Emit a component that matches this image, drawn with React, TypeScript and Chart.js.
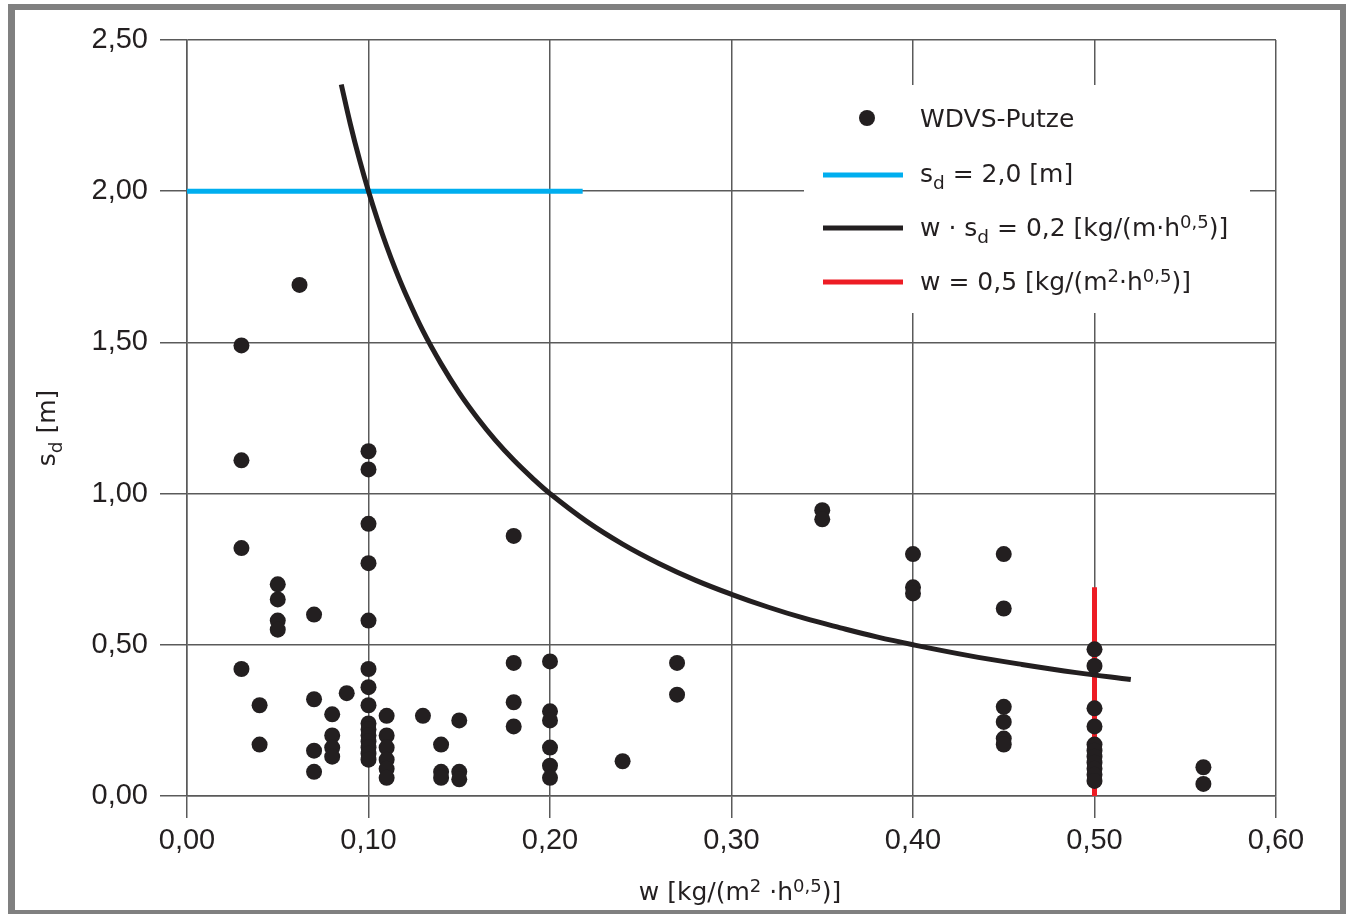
import React, { useEffect, useRef } from "react";
import { Chart, registerables } from "chart.js";

Chart.register(...registerables);

const FONT = '"Liberation Sans", Arial, sans-serif';
const FONT2 = '"DejaVu Sans", Verdana, sans-serif';
const INK = "#231f20";
const GRID = "#5a5a5a";

// scatter data: WDVS-Putze (w, sd)
const wValues = [
  0.03, 0.03, 0.03, 0.03,
  0.04, 0.04,
  0.05, 0.05, 0.05, 0.05,
  0.062,
  0.07, 0.07, 0.07, 0.07,
  0.08, 0.08, 0.08, 0.08,
  0.088,
  0.1, 0.1, 0.1, 0.1, 0.1, 0.1, 0.1, 0.1, 0.1, 0.1, 0.1, 0.1, 0.1, 0.1, 0.1,
  0.11, 0.11, 0.11, 0.11, 0.11, 0.11,
  0.13,
  0.14, 0.14, 0.14,
  0.15, 0.15, 0.15,
  0.18, 0.18, 0.18, 0.18,
  0.2, 0.2, 0.2, 0.2, 0.2, 0.2,
  0.24,
  0.27, 0.27,
  0.35, 0.35,
  0.4, 0.4, 0.4,
  0.45, 0.45, 0.45, 0.45, 0.45, 0.45,
  0.5, 0.5, 0.5, 0.5, 0.5, 0.5, 0.5, 0.5, 0.5, 0.5, 0.5,
  0.56, 0.56,
];
const sdValues = [
  1.49, 1.11, 0.82, 0.42,
  0.3, 0.17,
  0.7, 0.65, 0.58, 0.55,
  1.69,
  0.6, 0.32, 0.15, 0.08,
  0.27, 0.2, 0.16, 0.13,
  0.34,
  1.14, 1.08, 0.9, 0.77, 0.58, 0.42, 0.36, 0.3, 0.24, 0.22, 0.2, 0.18, 0.16, 0.14, 0.12,
  0.265, 0.2, 0.16, 0.12, 0.09, 0.06,
  0.265,
  0.17, 0.08, 0.06,
  0.25, 0.08, 0.055,
  0.86, 0.44, 0.31, 0.23,
  0.445, 0.28, 0.25, 0.16, 0.1, 0.06,
  0.115,
  0.44, 0.335,
  0.945, 0.915,
  0.8, 0.69, 0.67,
  0.8, 0.62, 0.295, 0.245, 0.19, 0.17,
  0.485, 0.43, 0.29, 0.23, 0.17, 0.15, 0.13, 0.11, 0.09, 0.07, 0.05,
  0.095, 0.04,
];

// curve w * sd = 0,2
const curveW = [
  0.085, 0.09, 0.095, 0.1, 0.105, 0.11, 0.115, 0.12, 0.13, 0.14, 0.15, 0.16, 0.17, 0.18, 0.19, 0.2,
  0.22, 0.24, 0.26, 0.28, 0.3, 0.32, 0.34, 0.36, 0.38, 0.4, 0.43, 0.46, 0.49, 0.52,
];
const curveSd = [
  2.353, 2.222, 2.105, 2.0, 1.905, 1.818, 1.739, 1.667, 1.538, 1.429, 1.333, 1.25, 1.176, 1.111, 1.053, 1.0,
  0.909, 0.833, 0.769, 0.714, 0.667, 0.625, 0.588, 0.556, 0.526, 0.5, 0.465, 0.435, 0.408, 0.385,
];

// sd = 2,0 m limit line
const blueW = [0.0, 0.218];
const blueSd = [2.0, 2.0];

// w = 0,5 limit line
const redW = [0.5, 0.5];
const redSd = [0.0, 0.69];

const xTicks = [0, 0.1, 0.2, 0.3, 0.4, 0.5, 0.6];
const yTicks = [0, 0.5, 1.0, 1.5, 2.0, 2.5];

type Part = { t: string; s?: "sub" | "sup" };

const legendItems: { kind: "dot" | "line"; color: string; parts: Part[] }[] = [
  { kind: "dot", color: INK, parts: [{ t: "WDVS-Putze" }] },
  { kind: "line", color: "#00aeef", parts: [{ t: "s" }, { t: "d", s: "sub" }, { t: " = 2,0 [m]" }] },
  {
    kind: "line",
    color: INK,
    parts: [{ t: "w · s" }, { t: "d", s: "sub" }, { t: " = 0,2 [kg/(m·h" }, { t: "0,5", s: "sup" }, { t: ")]" }],
  },
  {
    kind: "line",
    color: "#ed1c24",
    parts: [{ t: "w = 0,5 [kg/(m" }, { t: "2", s: "sup" }, { t: "·h" }, { t: "0,5", s: "sup" }, { t: ")]" }],
  },
];

const xTitle: Part[] = [{ t: "w [kg/(m" }, { t: "2", s: "sup" }, { t: " ·h" }, { t: "0,5", s: "sup" }, { t: ")]" }];
const yTitle: Part[] = [{ t: "s" }, { t: "d", s: "sub" }, { t: " [m]" }];

function drawRich(ctx: CanvasRenderingContext2D, parts: Part[], x: number, y: number, size: number, align: "left" | "center") {
  const subSize = size * 0.74;
  const supSize = size * 0.72;
  const fontFor = (p: Part) => `${p.s === "sub" ? subSize : p.s === "sup" ? supSize : size}px ${FONT2}`;
  const widths = parts.map((p) => {
    ctx.font = fontFor(p);
    return ctx.measureText(p.t).width;
  });
  const total = widths.reduce((a, b) => a + b, 0);
  let cx = align === "center" ? x - total / 2 : x;
  ctx.textAlign = "left";
  ctx.textBaseline = "alphabetic";
  ctx.fillStyle = INK;
  parts.forEach((p, i) => {
    ctx.font = fontFor(p);
    const dy = p.s === "sub" ? size * 0.28 : p.s === "sup" ? -size * 0.34 : 0;
    ctx.fillText(p.t, cx, y + dy);
    cx += widths[i];
  });
}

const decorPlugin = {
  id: "decor",
  beforeDraw(chart: any) {
    const ctx = chart.ctx as CanvasRenderingContext2D;
    ctx.save();
    ctx.fillStyle = "#ffffff";
    ctx.fillRect(0, 0, chart.width, chart.height);
    ctx.restore();
  },
  afterDraw(chart: any) {
    const ctx = chart.ctx as CanvasRenderingContext2D;
    const a = chart.chartArea;
    ctx.save();
    // page frame
    ctx.fillStyle = "#808080";
    ctx.fillRect(8, 4, 1338, 6);
    ctx.fillRect(8, 4, 7, 910);
    ctx.fillRect(1340, 4, 6, 910);
    ctx.fillRect(8, 910, 1338, 4);

    // legend box
    const lx = a.left + 617;
    const ly = a.top + 45;
    ctx.fillStyle = "#ffffff";
    ctx.fillRect(lx, ly, 446, 228);
    const baselines = [127, 182, 236, 290];
    const marks = [118, 175, 228, 282];
    legendItems.forEach((it, i) => {
      const my = marks[i];
      if (it.kind === "dot") {
        ctx.fillStyle = it.color;
        ctx.beginPath();
        ctx.arc(867, my, 8, 0, Math.PI * 2);
        ctx.fill();
      } else {
        ctx.strokeStyle = it.color;
        ctx.lineWidth = 5;
        ctx.beginPath();
        ctx.moveTo(823, my);
        ctx.lineTo(903, my);
        ctx.stroke();
      }
      drawRich(ctx, it.parts, 920, baselines[i], 25, "left");
    });

    // axis titles
    drawRich(ctx, xTitle, 740, 900, 25, "center");
    ctx.translate(55, 428);
    ctx.rotate(-Math.PI / 2);
    drawRich(ctx, yTitle, 0, 0, 25, "center");
    ctx.restore();
  },
};

const fmt = (v: number) => v.toFixed(2).replace(".", ",");

export default function App() {
  const ref = useRef<HTMLCanvasElement | null>(null);
  useEffect(() => {
    document.body.style.margin = "0";
    if (!ref.current) return;
    const pts = wValues.map((w, i) => ({ x: w, y: sdValues[i] }));
    const curve = curveW.map((w, i) => ({ x: w, y: curveSd[i] }));
    const blue = blueW.map((w, i) => ({ x: w, y: blueSd[i] }));
    const red = redW.map((w, i) => ({ x: w, y: redSd[i] }));
    const chart = new Chart(ref.current, {
      type: "scatter",
      data: {
        datasets: [
          {
            label: "WDVS-Putze",
            data: pts,
            backgroundColor: INK,
            borderWidth: 0,
            pointRadius: 8,
            order: 0,
          },
          {
            label: "w · sd = 0,2",
            data: curve,
            showLine: true,
            borderColor: INK,
            borderWidth: 5,
            pointRadius: 0,
            tension: 0.4,
            order: 1,
          } as any,
          {
            label: "w = 0,5",
            data: red,
            showLine: true,
            borderColor: "#ed1c24",
            borderWidth: 5,
            pointRadius: 0,
            order: 2,
          },
          {
            label: "sd = 2,0",
            data: blue,
            showLine: true,
            borderColor: "#00aeef",
            borderWidth: 5,
            pointRadius: 0,
            order: 3,
          },
        ],
      },
      options: {
        responsive: false,
        animation: false,
        layout: { padding: { left: 0, top: 40, right: 72, bottom: 0 } },
        plugins: { legend: { display: false }, tooltip: { enabled: false } },
        scales: {
          x: {
            type: "linear",
            min: 0,
            max: 0.6,
            afterFit: (s: any) => {
              s.height = 118;
            },
            afterBuildTicks: (s: any) => {
              s.ticks = xTicks.map((v) => ({ value: v }));
            },
            ticks: {
              callback: (v: any) => fmt(Number(v)),
              color: INK,
              font: { family: FONT, size: 29 },
              padding: 6,
              maxRotation: 0,
            },
            grid: { color: GRID, lineWidth: 1.5, tickLength: 22, tickColor: GRID },
            border: { display: true, color: GRID, width: 1.5 },
          },
          y: {
            type: "linear",
            min: 0,
            max: 2.5,
            afterFit: (s: any) => {
              s.width = 187;
            },
            afterBuildTicks: (s: any) => {
              s.ticks = yTicks.map((v) => ({ value: v }));
            },
            ticks: {
              callback: (v: any) => fmt(Number(v)),
              color: INK,
              font: { family: FONT, size: 29 },
              padding: 12,
            },
            grid: { color: GRID, lineWidth: 1.5, tickLength: 27, tickColor: GRID },
            border: { display: true, color: GRID, width: 1.5 },
          },
        },
      },
      plugins: [decorPlugin],
    });
    return () => chart.destroy();
  }, []);
  return (
    <div style={{ width: 1348, height: 914 }}>
      <canvas ref={ref} width={1348} height={914} style={{ display: "block" }} />
    </div>
  );
}
